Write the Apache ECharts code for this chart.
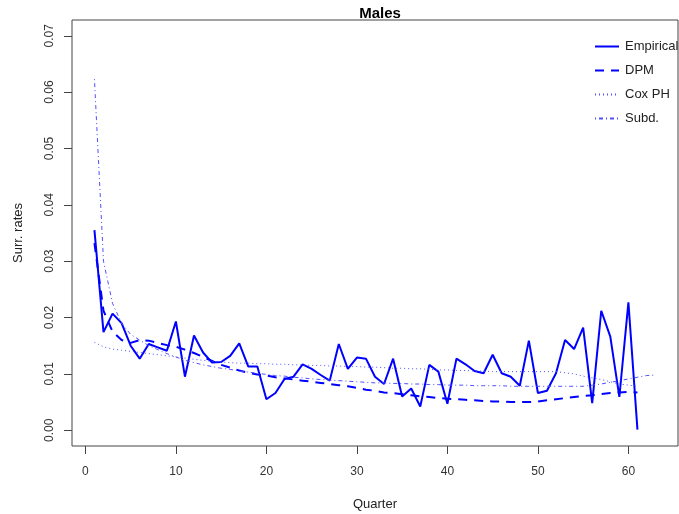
<!DOCTYPE html>
<html>
<head>
<meta charset="utf-8">
<script src="https://cdn.jsdelivr.net/npm/echarts@6/dist/echarts.min.js"></script>
<style>
  html, body { margin: 0; padding: 0; background: #fff; }
  #chart { width: 679px; height: 514px; }
</style>
</head>
<body>
<div id="chart"></div>
<script>
// Quarterly surrender rates for males: observed vs. fitted models
const empiricalRates = [
  0.0355, 0.0174, 0.0207, 0.0190, 0.0150, 0.0127, 0.0153, 0.0147, 0.0141, 0.0193,
  0.0095, 0.0168, 0.0138, 0.0120, 0.0121, 0.0132, 0.0154, 0.0113, 0.0113, 0.0055,
  0.0066, 0.0091, 0.0095, 0.0117, 0.0109, 0.0098, 0.0088, 0.0153, 0.0109, 0.0129,
  0.0127, 0.0095, 0.0082, 0.0127, 0.0060, 0.0074, 0.0042, 0.0116, 0.0104, 0.0047,
  0.0127, 0.0117, 0.0105, 0.0101, 0.0134, 0.0101, 0.0095, 0.0079, 0.0159, 0.0066,
  0.0070, 0.0101, 0.0160, 0.0144, 0.0182, 0.0048, 0.0212, 0.0166, 0.0059, 0.0227,
  0.0001
];
const dpmRates = [
  0.0332, 0.0212, 0.0175, 0.0160, 0.0155, 0.0160, 0.0159, 0.0155, 0.0151, 0.0148,
  0.0143, 0.0137, 0.0130, 0.0123, 0.0116, 0.0111, 0.0106, 0.0102, 0.0099, 0.0097,
  0.0094, 0.0092, 0.0090, 0.0088, 0.0086, 0.0084, 0.0082, 0.0080, 0.0078, 0.0075,
  0.0072, 0.0070, 0.0067, 0.0066, 0.0064, 0.0062, 0.0060, 0.0059, 0.0057, 0.0056,
  0.0055, 0.0054, 0.0053, 0.0052, 0.0051, 0.0051, 0.0050, 0.0050, 0.0050, 0.0051,
  0.0053, 0.0055, 0.0057, 0.0059, 0.0061, 0.0062, 0.0064, 0.0066, 0.0067, 0.0068,
  0.0067
];
const coxRates = [
  0.0156, 0.0148, 0.0144, 0.0142, 0.0140, 0.0138, 0.0136, 0.0134, 0.0132, 0.0130,
  0.0128, 0.0126, 0.0124, 0.0122, 0.0121, 0.0120, 0.0119, 0.0119, 0.0118, 0.0118,
  0.0117, 0.0117, 0.0116, 0.0116, 0.0115, 0.0115, 0.0114, 0.0114, 0.0113, 0.0113,
  0.0112, 0.0112, 0.0111, 0.0110, 0.0110, 0.0109, 0.0109, 0.0108, 0.0107, 0.0107,
  0.0106, 0.0106, 0.0105, 0.0105, 0.0104, 0.0104, 0.0104, 0.0104, 0.0104, 0.0104,
  0.0104, 0.0104, 0.0102, 0.0100, 0.0096, 0.0093, 0.0090, 0.0086, 0.0082, 0.0080,
  0.0078
];
const subdRates = [
  0.0623, 0.0300, 0.0225, 0.0190, 0.0170, 0.0160, 0.0150, 0.0143, 0.0136, 0.0130,
  0.0124, 0.0120, 0.0116, 0.0113, 0.0110, 0.0108, 0.0105, 0.0103, 0.0101, 0.0099,
  0.0097, 0.0096, 0.0094, 0.0093, 0.0091, 0.0090, 0.0089, 0.0088, 0.0087, 0.0086,
  0.0085, 0.0084, 0.0084, 0.0083, 0.0083, 0.0082, 0.0082, 0.0081, 0.0081, 0.0080,
  0.0080, 0.0080, 0.0079, 0.0079, 0.0079, 0.0079, 0.0078, 0.0078, 0.0078, 0.0078,
  0.0078, 0.0078, 0.0078, 0.0078, 0.0078, 0.0080, 0.0082, 0.0085, 0.0088, 0.0091,
  0.0094, 0.0097, 0.0098
];
const xTicks = [0, 10, 20, 30, 40, 50, 60];
const yTicks = [0, 0.01, 0.02, 0.03, 0.04, 0.05, 0.06, 0.07];
const seriesNames = ['Empirical', 'DPM', 'Cox PH', 'Subd.'];

// pair each rate with its quarter number (1, 2, 3, ...)
const byQuarter = arr => arr.map((v, i) => [i + 1, v]);

const FONT = '"Liberation Sans", Arial, Helvetica, sans-serif';
const chart = echarts.init(document.getElementById('chart'), null, { renderer: 'canvas' });

chart.setOption({
  animation: false,
  backgroundColor: '#ffffff',
  title: {
    text: 'Males',
    left: 375,
    textAlign: 'center',
    top: 1,
    textStyle: { fontFamily: FONT, fontSize: 15, fontWeight: 'bold', color: '#000' }
  },
  grid: {
    left: 72, right: 1, top: 20, bottom: 68,
    outerBoundsMode: 'none',
    containLabel: false,
    show: true, borderColor: '#444', borderWidth: 1, backgroundColor: 'transparent'
  },
  legend: {
    orient: 'vertical',
    left: 589,
    top: 35,
    itemWidth: 24,
    itemHeight: 14,
    itemGap: 11,
    data: seriesNames,
    itemStyle: { opacity: 0 },
    textStyle: { fontFamily: FONT, fontSize: 13, color: '#222', padding: [0, 0, 0, 1] }
  },
  xAxis: {
    type: 'value',
    min: -1.48,
    max: 65.48,
    name: 'Quarter',
    nameLocation: 'middle',
    nameGap: 52,
    nameTextStyle: { fontFamily: FONT, fontSize: 13, color: '#222' },
    axisLine: { show: false, onZero: false },
    splitLine: { show: false },
    axisTick: { show: true, length: 8, inside: false, customValues: xTicks, lineStyle: { color: '#444' } },
    axisLabel: { customValues: xTicks, margin: 20, fontFamily: FONT, fontSize: 12, color: '#333' }
  },
  yAxis: {
    type: 'value',
    min: -0.0028,
    max: 0.0728,
    name: 'Surr. rates',
    nameLocation: 'middle',
    nameGap: 47,
    nameRotate: 90,
    nameTextStyle: { fontFamily: FONT, fontSize: 13, color: '#222' },
    axisLine: { show: false, onZero: false },
    splitLine: { show: false },
    axisTick: { show: true, length: 8, inside: false, customValues: yTicks, lineStyle: { color: '#444' } },
    axisLabel: {
      customValues: yTicks,
      rotate: 90,
      margin: 16,
      fontFamily: FONT, fontSize: 12, color: '#333',
      formatter: v => v.toFixed(2)
    }
  },
  series: [
    {
      name: 'Empirical', type: 'line', data: byQuarter(empiricalRates),
      symbol: 'none', color: '#0000ff',
      lineStyle: { color: '#0000ff', width: 2, type: 'solid' }
    },
    {
      name: 'DPM', type: 'line', data: byQuarter(dpmRates),
      symbol: 'none', color: '#0000ff',
      lineStyle: { color: '#0000ff', width: 2, type: [9, 7] }
    },
    {
      name: 'Cox PH', type: 'line', data: byQuarter(coxRates),
      symbol: 'none', color: '#5050ff',
      lineStyle: { color: '#5050ff', width: 1, type: [1, 3] }
    },
    {
      name: 'Subd.', type: 'line', data: byQuarter(subdRates),
      symbol: 'none', color: '#5050ff',
      lineStyle: { color: '#5050ff', width: 1, type: [1, 3, 4, 3] }
    }
  ]
});
</script>
</body>
</html>
